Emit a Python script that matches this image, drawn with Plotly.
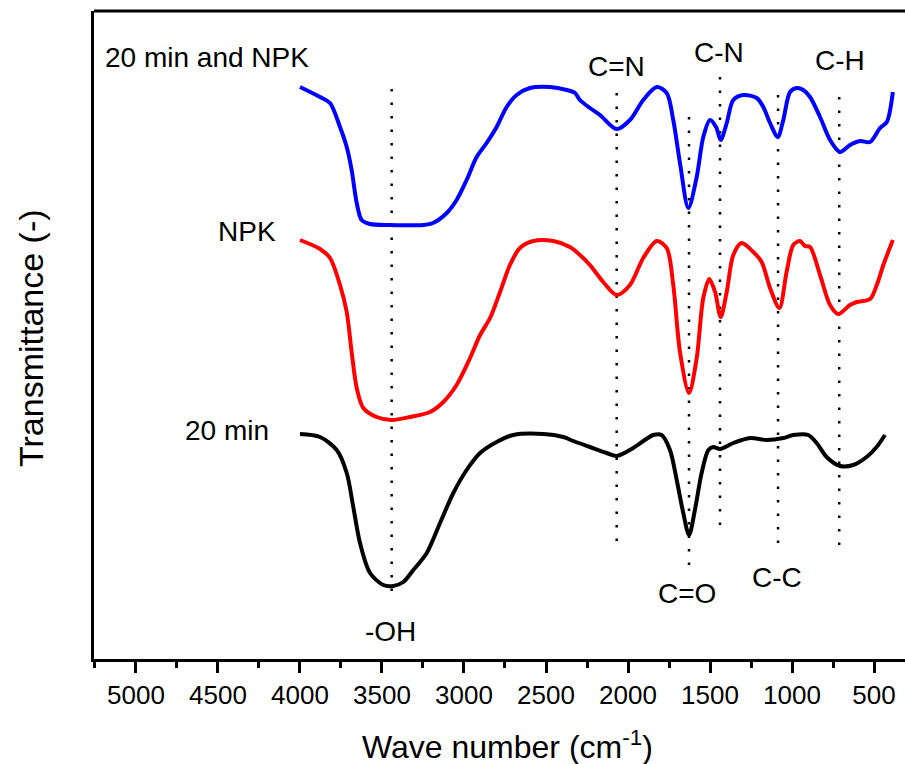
import plotly.graph_objects as go

# FTIR spectra (wave number in cm^-1, transmittance in arbitrary units, stacked)
wn_mix = [4000, 3878, 3817, 3756, 3715, 3685, 3654, 3624, 3573, 3451, 3248, 3189, 3105,
          3045, 2984, 2923, 2862, 2801, 2740, 2679, 2598, 2476, 2374, 2323, 2293, 2232,
          2171, 2069, 1988, 1907, 1825, 1764, 1724, 1683, 1632, 1581, 1541, 1500, 1463,
          1435, 1398, 1358, 1297, 1215, 1175, 1134, 1087, 1053, 1012, 971, 931, 890, 829,
          768, 707, 646, 585, 524, 463, 422, 385]
t_mix = [57.2, 56.2, 55.6, 53.2, 51.2, 48.9, 45.6, 43.9, 43.5, 43.4, 43.4, 43.6, 44.6,
         45.9, 47.9, 50.2, 51.6, 53.2, 55.2, 56.4, 57.1, 57.2, 56.9, 56.6, 55.9, 55.1,
         54.4, 53.0, 53.9, 55.9, 57.2, 56.6, 53.9, 49.6, 45.1, 48.2, 52.2, 53.9, 53.2,
         51.9, 53.6, 55.9, 56.4, 56.1, 55.2, 53.6, 52.2, 53.9, 56.7, 57.1, 56.9, 56.2, 54.2,
         51.9, 50.7, 51.4, 51.8, 51.7, 53.1, 53.7, 56.7]

wn_npk = [4000, 3878, 3817, 3756, 3715, 3685, 3654, 3614, 3533, 3441, 3329, 3207, 3126,
          3045, 2963, 2902, 2841, 2780, 2720, 2659, 2577, 2455, 2354, 2293, 2232, 2151,
          2069, 1988, 1907, 1825, 1764, 1724, 1683, 1628, 1581, 1541, 1504, 1469, 1435,
          1398, 1358, 1307, 1236, 1185, 1134, 1077, 1033, 992, 951, 921, 890, 829, 768,
          718, 646, 605, 524, 483, 443, 385]
t_npk = [41.9, 41.0, 40.1, 37.4, 34.7, 30.7, 27.1, 25.1, 24.2, 23.9, 24.2, 24.7, 25.7,
         27.4, 30.1, 32.4, 34.1, 36.7, 39.4, 41.1, 41.8, 41.8, 41.2, 40.4, 39.4, 37.7,
         36.4, 37.4, 40.1, 41.8, 41.1, 37.4, 30.7, 26.6, 30.1, 36.1, 38.0, 36.7, 34.2,
         36.7, 40.4, 41.6, 40.7, 39.7, 37.1, 35.1, 38.7, 41.4, 41.8, 41.3, 41.2, 38.4, 35.4,
         34.5, 35.4, 35.7, 36.0, 37.4, 39.4, 41.9]

wn_20 = [4000, 3878, 3776, 3715, 3675, 3634, 3573, 3492, 3431, 3370, 3309, 3227, 3146,
         3065, 2984, 2902, 2801, 2699, 2516, 2394, 2333, 2232, 2130, 2069, 1968, 1846,
         1795, 1744, 1703, 1663, 1628, 1592, 1551, 1510, 1480, 1439, 1358, 1256, 1154,
         1053, 992, 901, 850, 789, 707, 626, 545, 484, 433]
t_20 = [22.5, 22.2, 20.9, 18.6, 15.2, 11.6, 8.6, 7.4, 7.3, 7.7, 8.9, 10.6, 13.6,
        16.6, 18.9, 20.6, 21.7, 22.4, 22.5, 22.2, 21.8, 21.2, 20.6, 20.3, 21.1, 22.4,
        22.4, 20.9, 17.9, 14.6, 12.4, 14.9, 18.6, 20.9, 21.2, 21.0, 21.6, 22.1, 21.9,
        22.1, 22.4, 22.4, 21.6, 20.2, 19.3, 19.4, 20.2, 21.2, 22.4]

# Band assignments: position, label, dotted guide extent, label height
band_wn = [3441, 2069, 1628, 1439, 1085, 712]
band_label = ["-OH", "C=N", "C=O", "C-N", "C-C", "C-H"]
band_top = [57.0, 56.6, 54.2, 58.2, 56.4, 56.2]
band_bottom = [6.1, 11.2, 8.9, 12.8, 11.1, 10.7]
band_label_wn = [3451, 2070, 1640, 1448, 1094, 710]
band_label_t = [2.8, 59.3, 6.6, 60.7, 8.2, 59.9]

# Spectrum names and where they are written
sample_names = ["20 min and NPK", "NPK", "20 min"]
sample_name_wn = [4567, 4323, 4445]
sample_name_t = [60.2, 42.8, 22.9]

FONT = "Arial, Liberation Sans, sans-serif"

fig = go.Figure()

# dotted guides for the band positions
for w, top, bot in zip(band_wn, band_top, band_bottom):
    fig.add_trace(go.Scatter(
        x=[w, w], y=[top, bot], mode="lines",
        line=dict(color="black", width=2.5, dash="2.5px,11px"),
        showlegend=False, hoverinfo="skip"))

for wn, t, col in [(wn_mix, t_mix, "#0000FF"), (wn_npk, t_npk, "#FF0000"), (wn_20, t_20, "#000000")]:
    fig.add_trace(go.Scatter(
        x=wn, y=t, mode="lines",
        line=dict(color=col, width=4, shape="spline", smoothing=0.85),
        showlegend=False))

annotations = []
for name, w, t in zip(sample_names, sample_name_wn, sample_name_t):
    annotations.append(dict(x=w, y=t, xref="x", yref="y", text=name, showarrow=False,
                            font=dict(family=FONT, size=28, color="black")))
for lab, w, t in zip(band_label, band_label_wn, band_label_t):
    annotations.append(dict(x=w, y=t, xref="x", yref="y", text=lab, showarrow=False,
                            font=dict(family=FONT, size=28, color="black")))

# axis titles
annotations.append(dict(x=0.51, y=-0.133, xref="paper", yref="paper",
                        text="Wave number (cm<sup>-1</sup>)", showarrow=False,
                        xanchor="center", yanchor="middle",
                        font=dict(family=FONT, size=32, color="black")))
annotations.append(dict(x=-0.078, y=0.495, xref="paper", yref="paper",
                        text="Transmittance (-)", showarrow=False, textangle=-90,
                        xanchor="center", yanchor="middle",
                        font=dict(family=FONT, size=34, color="black")))

fig.update_layout(
    width=905, height=764,
    margin=dict(l=94, r=0, t=11, b=105),
    paper_bgcolor="white", plot_bgcolor="white",
    annotations=annotations,
    shapes=[dict(type="line", xref="paper", yref="paper", x0=0, x1=1, y0=1, y1=1,
                 line=dict(color="black", width=3))],
)

fig.update_xaxes(
    range=[5256, 311], autorange=False,
    tickmode="linear", tick0=500, dtick=500,
    ticks="outside", ticklen=11, tickwidth=2.5, tickcolor="black",
    minor=dict(ticks="outside", ticklen=6, tickwidth=2.5, tickcolor="black", dtick=250, tick0=250),
    showline=True, linewidth=3, linecolor="black",
    showgrid=False, zeroline=False,
    tickfont=dict(family=FONT, size=26, color="black"),
)
fig.update_yaxes(
    range=[0, 64.8], autorange=False,
    showticklabels=False, ticks="",
    showline=True, linewidth=3, linecolor="black",
    showgrid=False, zeroline=False,
)

fig.write_html("out.html")
